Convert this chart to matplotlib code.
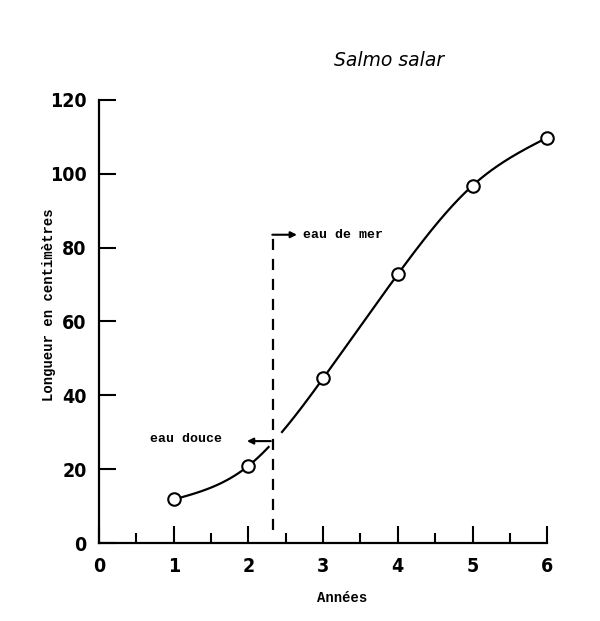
import numpy as np
import matplotlib
matplotlib.use("Agg")
import matplotlib.pyplot as plt

# Données
annees = [1, 2, 3, 4, 5, 6]
longueur = [11.8, 20.9, 44.6, 72.8, 96.8, 109.8]
x_ticks = [0, 1, 2, 3, 4, 5, 6]
y_ticks = [0, 20, 40, 60, 80, 100, 120]
x_transition = 2.33


def spline_naturelle(x, y, xs):
    # spline cubique naturelle, sans scipy
    x = np.asarray(x, float)
    y = np.asarray(y, float)
    n = len(x)
    h = np.diff(x)
    A = np.zeros((n, n))
    b = np.zeros(n)
    A[0, 0] = A[-1, -1] = 1
    for i in range(1, n - 1):
        A[i, i - 1] = h[i - 1]
        A[i, i] = 2 * (h[i - 1] + h[i])
        A[i, i + 1] = h[i]
        b[i] = 3 * ((y[i + 1] - y[i]) / h[i] - (y[i] - y[i - 1]) / h[i - 1])
    c = np.linalg.solve(A, b)
    out = np.empty_like(xs)
    for k, xv in enumerate(xs):
        i = min(max(np.searchsorted(x, xv) - 1, 0), n - 2)
        dx = xv - x[i]
        bi = (y[i + 1] - y[i]) / h[i] - h[i] * (2 * c[i] + c[i + 1]) / 3
        di = (c[i + 1] - c[i]) / (3 * h[i])
        out[k] = y[i] + bi * dx + c[i] * dx ** 2 + di * dx ** 3
    return out


fig = plt.figure(figsize=(6, 6.21), dpi=100)
ax = fig.add_axes([0.165, 0.1256, 0.747, 0.7134])

# courbe en deux morceaux, interrompue au passage eau douce / eau de mer
xa = np.linspace(annees[0], 2.27, 80)
xb = np.linspace(2.45, annees[-1], 200)
ax.plot(xa, spline_naturelle(annees, longueur, xa), color="black", lw=1.6, clip_on=False)
ax.plot(xb, spline_naturelle(annees, longueur, xb), color="black", lw=1.6, clip_on=False)
ax.plot(annees, longueur, "o", ms=9, mfc="white", mec="black", mew=1.5, clip_on=False, zorder=5)

# limite eau douce / eau de mer
ax.plot([x_transition, x_transition], [3.5, 83.5], color="black", lw=1.6, ls=(0, (5, 4)))
ax.annotate("", xy=(x_transition + 0.32, 83.5), xytext=(x_transition - 0.01, 83.5),
            arrowprops=dict(arrowstyle="-|>", color="black", lw=1.5, mutation_scale=9,
                            shrinkA=0, shrinkB=0))
ax.text(x_transition + 0.4, 83.5, "eau de mer", family="Liberation Mono", fontweight="bold",
        fontsize=9.5, va="center", ha="left")
ax.annotate("", xy=(x_transition - 0.35, 27.6), xytext=(x_transition - 0.03, 27.6),
            arrowprops=dict(arrowstyle="-|>", color="black", lw=1.5, mutation_scale=9,
                            shrinkA=0, shrinkB=0))
ax.text(0.68, 28.3, "eau douce", family="Liberation Mono", fontweight="bold",
        fontsize=9.5, va="center", ha="left")

ax.set_xlim(0, 6)
ax.set_ylim(0, 120)
ax.spines["top"].set_visible(False)
ax.spines["right"].set_visible(False)
for s in ["left", "bottom"]:
    ax.spines[s].set_linewidth(1.6)

ax.set_xticks(x_ticks)
ax.set_xticks(np.arange(0.5, 6, 1), minor=True)
ax.set_yticks(y_ticks)
ax.tick_params(axis="x", which="major", direction="in", length=12, width=1.5, pad=10)
ax.tick_params(axis="x", which="minor", direction="in", length=7, width=1.5)
ax.tick_params(axis="y", direction="in", length=12, width=1.5, pad=9)
for lab in ax.get_xticklabels() + ax.get_yticklabels():
    lab.set_family("DejaVu Sans")
    lab.set_fontstretch("condensed")
    lab.set_fontweight("bold")
    lab.set_fontsize(14)

ax.set_xlabel("Années", family="Liberation Mono", fontweight="bold", fontsize=10)
ax.xaxis.set_label_coords(0.542, -0.108)
ax.set_ylabel("Longueur en centimètres", family="Liberation Mono", fontweight="bold",
              fontsize=10)
ax.yaxis.set_label_coords(-0.096, 0.537)

fig.text(0.648, 0.903, "Salmo salar", style="italic", fontsize=13.5, ha="center", va="center")

fig.savefig("out.png", dpi=100)
